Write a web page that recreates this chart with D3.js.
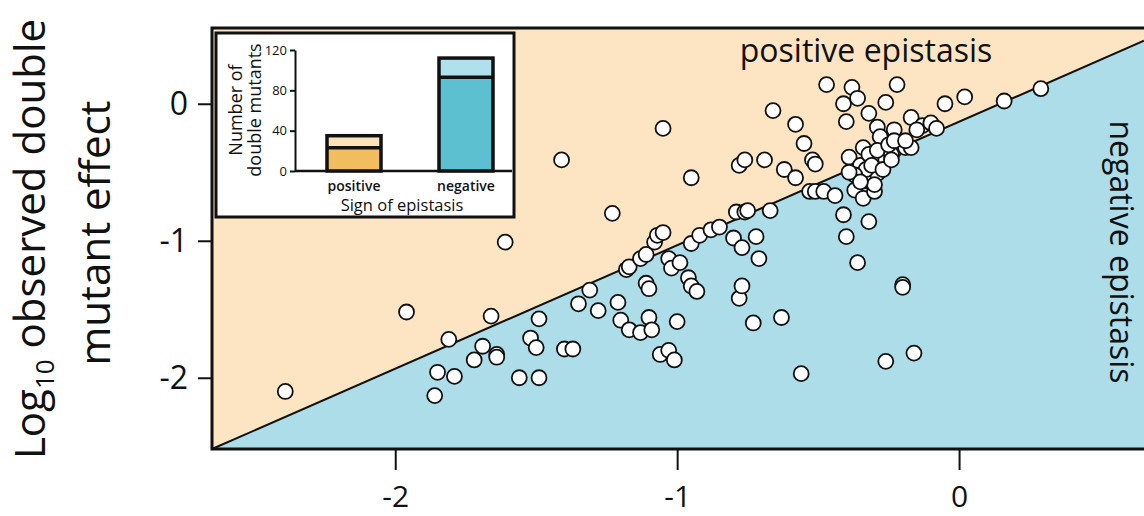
<!DOCTYPE html>
<meta charset="utf-8">
<script src="https://d3js.org/d3.v7.min.js"></script>
<style>
  body { margin: 0; background: #fff; }
  text { font-family: "Open Sans", sans-serif; fill: #111; }
</style>
<div id="chart"></div>
<script>
// log10 expected (x) vs log10 observed (y) double mutant effect
var expected = [-2.39, -1.96, -1.86, -1.85, -1.81, -1.79, -1.72, -1.69, -1.66, -1.64,
  -1.64, -1.61, -1.56, -1.52, -1.50, -1.49, -1.49, -1.41, -1.40, -1.37,
  -1.35, -1.31, -1.28, -1.23, -1.21, -1.20, -1.18, -1.17, -1.17, -1.13,
  -1.13, -1.11, -1.11, -1.10, -1.10, -1.09, -1.08, -1.07, -1.06, -1.05,
  -1.05, -1.03, -1.03, -1.02, -1.01, -1.00, -0.99, -0.96, -0.95, -0.95,
  -0.95, -0.93, -0.92, -0.88, -0.85, -0.80, -0.79, -0.78, -0.78, -0.77,
  -0.77, -0.76, -0.76, -0.75, -0.73, -0.72, -0.71, -0.69, -0.67, -0.66,
  -0.63, -0.62, -0.58, -0.58, -0.56, -0.55, -0.53, -0.52, -0.51, -0.51,
  -0.48, -0.47, -0.44, -0.41, -0.41, -0.40, -0.40, -0.39, -0.38, -0.37,
  -0.36, -0.36, -0.35, -0.34, -0.34, -0.33, -0.32, -0.32, -0.32, -0.30,
  -0.29, -0.29, -0.28, -0.28, -0.26, -0.26, -0.26, -0.23, -0.23, -0.22,
  -0.21, -0.20, -0.19, -0.17, -0.17, -0.16, -0.13, -0.10, -0.08, -0.05,
  0.02, 0.16, 0.29, -0.33, -0.31, -0.29, -0.24, -0.37, -0.30, -0.27,
  -0.25, -0.23, -0.19, -0.15, -0.35, -0.24, -0.39, -0.20];
var observed = [-2.10, -1.52, -2.13, -1.96, -1.72, -1.99, -1.87, -1.77, -1.55, -1.83,
  -1.85, -1.01, -2.00, -1.71, -1.78, -2.00, -1.57, -0.41, -1.79, -1.79,
  -1.46, -1.36, -1.51, -0.80, -1.45, -1.58, -1.21, -1.19, -1.65, -1.13,
  -1.67, -1.31, -1.10, -1.35, -1.56, -1.65, -1.01, -0.96, -1.83, -0.18,
  -0.94, -1.13, -1.80, -1.20, -1.87, -1.59, -1.16, -1.27, -0.54, -1.33,
  -1.02, -1.37, -0.96, -0.92, -0.90, -0.98, -0.79, -1.42, -0.45, -1.05,
  -1.33, -0.41, -0.79, -0.78, -1.60, -0.97, -1.13, -0.41, -0.78, -0.05,
  -1.56, -0.48, -0.15, -0.54, -1.97, -0.29, -0.64, -0.41, -0.44, -0.64,
  -0.64, 0.14, -0.67, 0.00, -0.81, -0.13, -0.97, -0.39, 0.12, -0.63,
  0.04, -1.16, -0.45, -0.32, -0.69, -0.56, -0.07, -0.37, -0.86, -0.64,
  -0.51, -0.17, -0.24, -0.40, 0.01, -0.41, -1.88, -0.19, -0.34, 0.14,
  -0.30, -1.32, -0.32, -0.32, -0.10, -1.82, -0.16, -0.14, -0.18, 0.00,
  0.05, 0.02, 0.11, -0.48, -0.45, -0.34, -0.37, -0.52, -0.59, -0.48,
  -0.30, -0.27, -0.27, -0.19, -0.57, -0.41, -0.50, -1.34];

var xTicks = [-2, -1, 0];
var yTicks = [0, -1, -2];
// ends of the line that splits positive from negative epistasis
var dividerX = [-2.65, 0.656];
var dividerY = [-2.52, 0.46];

// inset bar chart
var signs = ["positive", "negative"];
var strongCounts = [23, 93];
var totalCounts = [35, 112];
var insetTicks = [0, 40, 80, 120];

var margin = {top: 28, right: 0, bottom: 67, left: 212},
    width = 1144 - margin.left - margin.right,
    height = 516 - margin.top - margin.bottom;

var svg = d3.select("#chart")
  .append("svg")
    .attr("width", 1144)
    .attr("height", 516);

var g = svg.append("g")
    .attr("transform", "translate(" + margin.left + "," + margin.top + ")");

var x = d3.scaleLinear().domain([-2.65, 0.656]).range([0, width]);
var y = d3.scaleLinear().domain([0.553, -2.52]).range([0, height]);

// background regions
var p0 = [x(dividerX[0]), y(dividerY[0])],
    p1 = [x(dividerX[1]), y(dividerY[1])];
g.append("path")
  .attr("d", d3.line()([[0, 0], [width, 0], p1, p0]))
  .attr("fill", "#fde5c3");
g.append("path")
  .attr("d", d3.line()([p0, [width, height], p1]))
  .attr("fill", "#acdde8");
g.append("line")
  .attr("x1", p0[0]).attr("y1", p0[1])
  .attr("x2", p1[0]).attr("y2", p1[1])
  .attr("stroke", "#111").attr("stroke-width", 2);

// frame
g.append("path")
  .attr("d", "M" + width + ",0H0V" + height + "H" + width)
  .attr("fill", "none").attr("stroke", "#111").attr("stroke-width", 3);

// axes
var yAxis = g.append("g")
  .call(d3.axisLeft(y).tickValues(yTicks).tickSize(14).tickPadding(10)
    .tickFormat(function (d) { return String(d); }));
yAxis.select(".domain").remove();
yAxis.selectAll("line").attr("stroke", "#111").attr("stroke-width", 2);
yAxis.selectAll("text").style("font-size", "32px").attr("fill", "#111");

var xAxis = g.append("g")
  .attr("transform", "translate(0," + height + ")")
  .call(d3.axisBottom(x).tickValues(xTicks).tickSize(21)
    .tickFormat(function (d) { return String(d); }));
xAxis.select(".domain").remove();
xAxis.selectAll("line").attr("stroke", "#111").attr("stroke-width", 2);
xAxis.selectAll("text").style("font-size", "30px").attr("fill", "#111")
  .attr("y", 58).attr("dy", 0);

// points
g.selectAll(".dot")
  .data(expected)
  .enter()
  .append("circle")
    .attr("class", "dot")
    .attr("cx", function (d) { return x(d); })
    .attr("cy", function (d, i) { return y(observed[i]); })
    .attr("r", 7.5)
    .attr("fill", "#fff")
    .attr("stroke", "#111")
    .attr("stroke-width", 1.8);

// region labels
svg.append("text")
  .attr("x", 866).attr("y", 62)
  .attr("text-anchor", "middle")
  .style("font-size", "32px")
  .text("positive epistasis");
svg.append("text")
  .attr("transform", "translate(1110,252) rotate(90)")
  .attr("text-anchor", "middle")
  .style("font-size", "32px")
  .text("negative epistasis");

// y title
var t1 = svg.append("text")
  .attr("transform", "translate(45,239) rotate(-90)")
  .attr("text-anchor", "middle")
  .style("font-size", "42px");
t1.append("tspan").text("Log");
t1.append("tspan").attr("dy", 9).style("font-size", "26px").text("10");
t1.append("tspan").attr("dy", -9).text(" observed double");
svg.append("text")
  .attr("transform", "translate(110,233) rotate(-90)")
  .attr("text-anchor", "middle")
  .style("font-size", "42px")
  .text("mutant effect");

// inset
var inset = svg.append("g");
inset.append("rect")
  .attr("x", 216).attr("y", 33)
  .attr("width", 298).attr("height", 184)
  .attr("fill", "#fff").attr("stroke", "#111").attr("stroke-width", 3);

var iy = d3.scaleLinear().domain([0, 120]).range([171, 50]);
var ix = d3.scalePoint().domain(signs).range([354, 466]);
var barW = 54;

var iAxis = inset.append("g")
  .attr("transform", "translate(295,0)")
  .call(d3.axisLeft(iy).tickValues(insetTicks).tickSize(5).tickPadding(3).tickSizeOuter(0));
iAxis.select(".domain").attr("stroke", "#111").attr("stroke-width", 2);
iAxis.selectAll("line").attr("stroke", "#111").attr("stroke-width", 2);
iAxis.selectAll("text").style("font-size", "13px").attr("fill", "#111");

inset.append("line")
  .attr("x1", 295).attr("x2", 512)
  .attr("y1", iy(0)).attr("y2", iy(0))
  .attr("stroke", "#111").attr("stroke-width", 2.5);

var darkFill = ["#f2bd5e", "#5cc0d0"],
    lightFill = ["#fbe2bb", "#b0e0eb"];

var bars = inset.selectAll(".bar")
  .data(signs)
  .enter()
  .append("g")
    .attr("class", "bar");
bars.append("rect")
  .attr("x", function (d) { return ix(d) - barW / 2; })
  .attr("y", function (d, i) { return iy(totalCounts[i]); })
  .attr("width", barW)
  .attr("height", function (d, i) { return iy(strongCounts[i]) - iy(totalCounts[i]); })
  .attr("fill", function (d, i) { return lightFill[i]; });
bars.append("rect")
  .attr("x", function (d) { return ix(d) - barW / 2; })
  .attr("y", function (d, i) { return iy(strongCounts[i]); })
  .attr("width", barW)
  .attr("height", function (d, i) { return iy(0) - iy(strongCounts[i]); })
  .attr("fill", function (d, i) { return darkFill[i]; });
bars.append("rect")
  .attr("x", function (d) { return ix(d) - barW / 2; })
  .attr("y", function (d, i) { return iy(totalCounts[i]); })
  .attr("width", barW)
  .attr("height", function (d, i) { return iy(0) - iy(totalCounts[i]); })
  .attr("fill", "none").attr("stroke", "#111").attr("stroke-width", 3.5);
bars.append("line")
  .attr("x1", function (d) { return ix(d) - barW / 2; })
  .attr("x2", function (d) { return ix(d) + barW / 2; })
  .attr("y1", function (d, i) { return iy(strongCounts[i]); })
  .attr("y2", function (d, i) { return iy(strongCounts[i]); })
  .attr("stroke", "#111").attr("stroke-width", 3.5);
bars.append("text")
  .attr("x", function (d) { return ix(d); })
  .attr("y", 191)
  .attr("text-anchor", "middle")
  .style("font-size", "14px")
  .style("font-weight", 600)
  .text(function (d) { return d; });

inset.append("text")
  .attr("x", 402).attr("y", 211)
  .attr("text-anchor", "middle")
  .style("font-size", "16.5px")
  .text("Sign of epistasis");
inset.append("text")
  .attr("transform", "translate(242,110) rotate(-90)")
  .attr("text-anchor", "middle")
  .style("font-size", "18px")
  .text("Number of");
inset.append("text")
  .attr("transform", "translate(261,110) rotate(-90)")
  .attr("text-anchor", "middle")
  .style("font-size", "18px")
  .text("double mutants");
</script>
